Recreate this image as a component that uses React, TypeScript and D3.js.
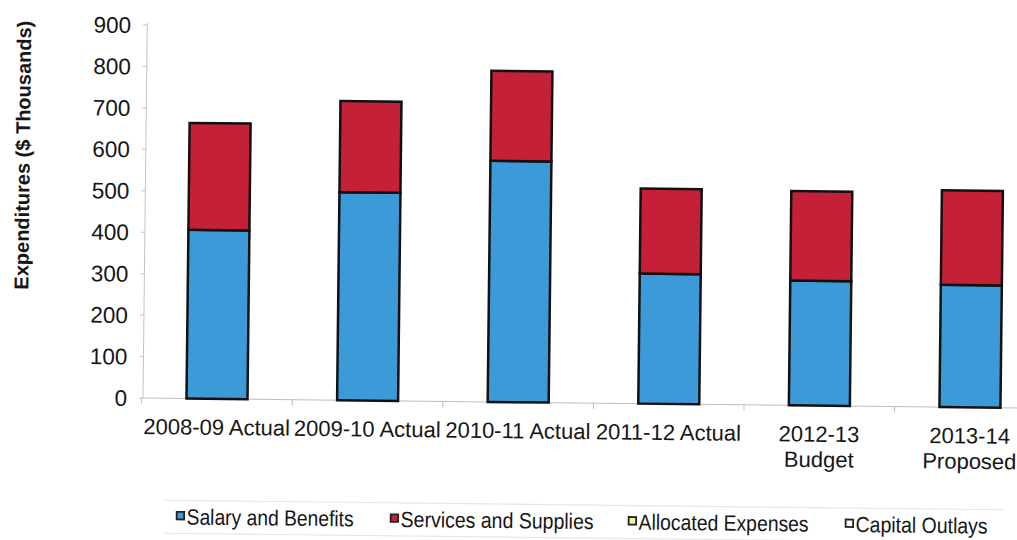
import React from "react";
import * as d3 from "d3";

const categories: string[] = [
  "2008-09 Actual",
  "2009-10 Actual",
  "2010-11 Actual",
  "2011-12 Actual",
  "2012-13\nBudget",
  "2013-14\nProposed",
];
const salaryAndBenefits: number[] = [407, 502, 582, 314, 301, 295];
const servicesAndSupplies: number[] = [258, 220, 217, 205, 216, 228];
const allocatedExpenses: number[] = [0, 0, 0, 0, 0, 0];
const capitalOutlays: number[] = [0, 0, 0, 0, 0, 0];
const seriesNames: string[] = [
  "Salary and Benefits",
  "Services and Supplies",
  "Allocated Expenses",
  "Capital Outlays",
];
const seriesColors: string[] = ["#3d9ad9", "#c42038", "#f4f0a6", "#ffffff"];
const yTicks: number[] = [0, 100, 200, 300, 400, 500, 600, 700, 800, 900];
const yTitle = "Expenditures ($ Thousands)";

const W = 1017;
const H = 540;
const X0 = 143;
const Y0 = 398;
const YTOP = 25;

export default function App() {
  const keys = ["s0", "s1", "s2", "s3"];
  const rows = categories.map((c, i) => ({
    cat: c,
    s0: salaryAndBenefits[i],
    s1: servicesAndSupplies[i],
    s2: allocatedExpenses[i],
    s3: capitalOutlays[i],
  }));
  const stacked = d3.stack<any>().keys(keys)(rows);

  const x = d3
    .scaleBand<string>()
    .domain(categories)
    .range([141.7, 141.7 + 150.6 * categories.length])
    .paddingInner(0.595)
    .paddingOuter(0.2975);
  const y = d3.scaleLinear().domain([0, 900]).range([Y0, YTOP]);
  const step = x.step();
  const rangeStart = x.range()[0];

  const font = "'Liberation Sans', Arial, Helvetica, sans-serif";
  const narrow = "'Liberation Sans Narrow', 'Arial Narrow', 'Liberation Sans', Arial, sans-serif";
  const textColor = "#161616";

  const legendItems = [
    { box: 178, text: 188, len: 167 },
    { box: 392, text: 402, len: 193 },
    { box: 630, text: 640, len: 170 },
    { box: 847, text: 857, len: 132 },
  ];

  return (
    <svg
      width={W}
      height={H}
      style={{ position: "absolute", left: 0, top: 0, background: "#fff" }}
    >
      <rect x={0} y={0} width={W} height={H} fill="#fff" />
      <g transform={`rotate(0.65, ${X0}, ${Y0})`}>
        {/* Y axis */}
        <line x1={X0} x2={X0} y1={YTOP - 2} y2={Y0} stroke="#c4c4c4" strokeWidth={1} />
        {yTicks.map((t) => (
          <g key={t}>
            <line x1={X0 - 4} x2={X0} y1={y(t)} y2={y(t)} stroke="#c4c4c4" strokeWidth={1} />
            <text
              x={127}
              y={y(t)}
              dy="0.36em"
              textAnchor="end"
              fontFamily={font}
              fontSize={22.5}
              fill={textColor}
            >
              {t}
            </text>
          </g>
        ))}
        <text
          transform={`translate(27, 156.5) rotate(-90)`}
          textAnchor="middle"
          fontFamily={font}
          fontWeight="bold"
          fontSize={20}
          fill={textColor}
        >
          {yTitle}
        </text>

        {/* X axis */}
        <line x1={X0} x2={W + 20} y1={Y0} y2={Y0} stroke="#bdbdbd" strokeWidth={1} />
        {d3.range(categories.length + 1).map((i) => (
          <line
            key={i}
            x1={rangeStart + i * step}
            x2={rangeStart + i * step}
            y1={Y0}
            y2={Y0 + 6}
            stroke="#bdbdbd"
            strokeWidth={1}
          />
        ))}

        {/* Bars */}
        {stacked.map((layer, li) => (
          <g key={layer.key}>
            {layer.map((d, i) => {
              const h = y(d[0]) - y(d[1]);
              if (h <= 0) return null;
              return (
                <rect
                  key={i}
                  x={x(categories[i])!}
                  y={y(d[1])}
                  width={x.bandwidth()}
                  height={h}
                  fill={seriesColors[li]}
                  stroke="#111"
                  strokeWidth={2.5}
                />
              );
            })}
          </g>
        ))}

        {/* X labels */}
        {categories.map((c) => {
          const lines = c.split("\n");
          const cx = x(c)! + x.bandwidth() / 2;
          return (
            <text
              key={c}
              x={cx}
              y={434}
              textAnchor="middle"
              fontFamily={font}
              fontSize={22}
              fill={textColor}
            >
              {lines.map((l, k) => (
                <tspan key={k} x={cx} dy={k === 0 ? 0 : 25.5}>
                  {l}
                </tspan>
              ))}
            </text>
          );
        })}

        {/* Legend */}
        <line x1={165} x2={1005} y1={500} y2={500} stroke="#e6e6e6" strokeWidth={1.2} />
        <line x1={165} x2={1005} y1={533} y2={533} stroke="#e6e6e6" strokeWidth={1.2} />
        {seriesNames.map((name, i) => (
          <g key={name}>
            <rect
              x={legendItems[i].box}
              y={511.5}
              width={7.5}
              height={7.5}
              fill={seriesColors[i]}
              stroke="#222"
              strokeWidth={1.8}
            />
            <text
              x={legendItems[i].text}
              y={524}
              fontFamily={narrow}
              fontSize={22}
              fill={textColor}
              textLength={legendItems[i].len}
              lengthAdjust="spacingAndGlyphs"
            >
              {name}
            </text>
          </g>
        ))}
      </g>
    </svg>
  );
}
